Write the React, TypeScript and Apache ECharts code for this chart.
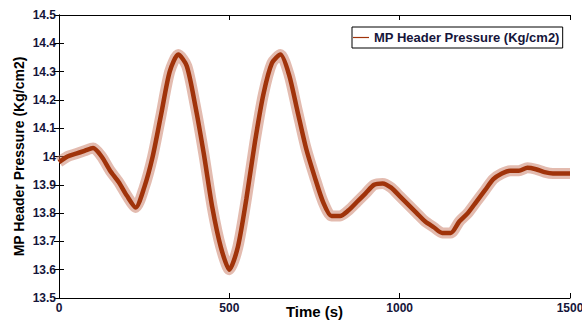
import React, { useEffect, useRef } from "react";
import * as echarts from "echarts";

const times = [0, 25, 50, 75, 100, 125, 150, 175, 200, 225, 250, 275, 300, 325, 350, 375, 400, 425, 450, 475, 500, 525, 550, 575, 600, 625, 650, 675, 700, 725, 750, 775, 800, 825, 850, 875, 900, 925, 950, 975, 1000, 1025, 1050, 1075, 1100, 1125, 1150, 1175, 1200, 1225, 1250, 1275, 1300, 1325, 1350, 1375, 1400, 1425, 1450, 1475, 1500];
const pressure = [13.98, 14.0, 14.01, 14.02, 14.03, 14.0, 13.95, 13.91, 13.86, 13.82, 13.89, 14.0, 14.15, 14.3, 14.36, 14.32, 14.18, 14.01, 13.82, 13.68, 13.6, 13.68, 13.85, 14.05, 14.22, 14.33, 14.36, 14.29, 14.16, 14.03, 13.93, 13.84, 13.79, 13.79, 13.81, 13.84, 13.87, 13.9, 13.905, 13.89, 13.86, 13.83, 13.8, 13.77, 13.75, 13.73, 13.73, 13.77, 13.8, 13.84, 13.88, 13.92, 13.94, 13.95, 13.95, 13.96, 13.955, 13.945, 13.94, 13.94, 13.94];
const xTicks = { min: 0, max: 1500, interval: 500 };
const yTicks = { min: 13.5, max: 14.5, interval: 0.1 };
const seriesName = "MP Header Pressure (Kg/cm2)";

const FONT = "Arial, 'Liberation Sans', sans-serif";
const TXT = "#15153a";

export default function App() {
  const ref = useRef<HTMLDivElement>(null);
  useEffect(() => {
    if (!ref.current) return;
    const chart = echarts.init(ref.current, undefined, { renderer: "svg" });
    const data = times.map((t, i) => [t, pressure[i]]);
    const axisLine = { show: true, lineStyle: { color: "#000", width: 1 } };
    const axisTick = { show: true, inside: true, length: 5, lineStyle: { color: "#000" } };
    chart.setOption({
      animation: false,
      backgroundColor: "#fff",
      grid: { left: 59, right: 12, top: 15, bottom: 23, outerBoundsMode: "none" },
      legend: {
        data: [{ name: seriesName, icon: "rect" }],
        left: 352,
        top: 27,
        itemWidth: 16,
        itemHeight: 1.2,
        padding: [4, 3, 4, 1],
        borderColor: "#000",
        borderWidth: 1,
        backgroundColor: "#fff",
        borderRadius: 0,
        selectedMode: false,
        textStyle: { fontFamily: FONT, fontWeight: "bold", fontSize: 13, color: TXT },
      },
      xAxis: [
        {
          type: "value",
          ...xTicks,
          position: "bottom",
          axisLine,
          axisTick,
          splitLine: { show: false },
          axisLabel: {
            fontFamily: FONT,
            fontWeight: "bold",
            fontSize: 12,
            color: TXT,
            margin: 4,
            formatter: (v: number) => String(v),
          },
          name: "Time (s)",
          nameLocation: "middle",
          nameGap: 13,
          nameMoveOverlap: false,
          nameTextStyle: { fontFamily: FONT, fontWeight: "bold", fontSize: 15, color: "#000", verticalAlign: "middle", lineHeight: 15 },
        },
        {
          type: "value",
          ...xTicks,
          position: "top",
          axisLine,
          axisTick,
          splitLine: { show: false },
          axisLabel: { show: false },
        },
      ],
      yAxis: [
        {
          type: "value",
          ...yTicks,
          position: "left",
          axisLine,
          axisTick,
          splitLine: { show: false },
          axisLabel: {
            fontFamily: FONT,
            fontWeight: "bold",
            fontSize: 12,
            color: TXT,
            margin: 3,
            formatter: (v: number) => String(+v.toFixed(1)),
          },
          name: seriesName,
          nameLocation: "middle",
          nameGap: 33,
          nameMoveOverlap: false,
          nameTextStyle: { fontFamily: FONT, fontWeight: "bold", fontSize: 14, color: "#000" },
        },
        {
          type: "value",
          ...yTicks,
          position: "right",
          axisLine,
          axisTick,
          splitLine: { show: false },
          axisLabel: { show: false },
        },
      ],
      series: [
        {
          name: "noise",
          type: "line",
          data,
          smooth: 0.25,
          showSymbol: false,
          silent: true,
          lineStyle: { color: "rgba(200,120,95,0.5)", width: 11 },
          z: 1,
        },
        {
          name: seriesName,
          type: "line",
          data,
          smooth: 0.25,
          showSymbol: false,
          itemStyle: { color: "#a0330a" },
          lineStyle: { color: "#a0330a", width: 4.5 },
          z: 2,
        },
      ],
    });
    return () => chart.dispose();
  }, []);
  return <div ref={ref} style={{ width: 582, height: 321, position: "absolute", left: 0, top: 0 }} />;
}
